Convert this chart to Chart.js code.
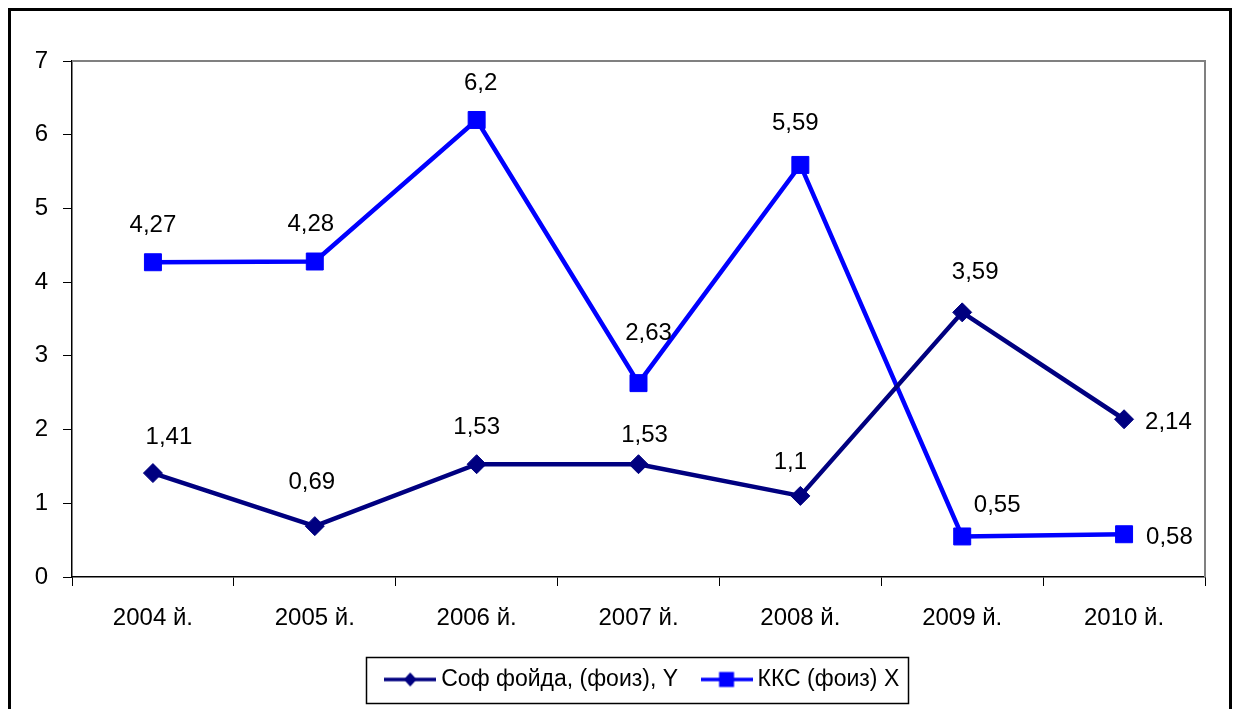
<!DOCTYPE html>
<html>
<head>
<meta charset="utf-8">
<script src="https://cdn.jsdelivr.net/npm/chart.js@4.4.1/dist/chart.umd.min.js"></script>
<style>
  html, body { margin: 0; padding: 0; background: #fff; }
  #wrap { position: relative; width: 1233px; height: 709px; }
</style>
</head>
<body>
<div id="wrap"><canvas id="c" width="1233" height="709"></canvas></div>
<script>
// ---- data ----
const categories = ['2004 й.', '2005 й.', '2006 й.', '2007 й.', '2008 й.', '2009 й.', '2010 й.'];
const seriesNames = ['Соф фойда, (фоиз), Y', 'ККС (фоиз) X'];
const profitY = [1.41, 0.69, 1.53, 1.53, 1.1, 3.59, 2.14];
const kksX = [4.27, 4.28, 6.2, 2.63, 5.59, 0.55, 0.58];
const yTicks = [0, 1, 2, 3, 4, 5, 6, 7];

// ---- label placement (style, relative to each point) ----
const labelPlacement = [
  [[16,-36,'center'],[-3,-44,'center'],[0,-37,'center'],[6,-29,'center'],[-10,-34,'center'],[13,-40,'center'],[21,3,'left']],
  [[0,-37,'center'],[-4,-37,'center'],[4,-37,'center'],[10,-50,'center'],[-5,-42,'center'],[35,-31,'center'],[22,3,'left']]
];

const NAVY = '#000080';
const BLUE = '#0000FF';
const FONT = '"Liberation Sans", Arial, sans-serif';

function makeSymbol(color, shape) {
  const cv = document.createElement('canvas');
  cv.width = 52; cv.height = 20;
  const g = cv.getContext('2d');
  g.strokeStyle = color; g.fillStyle = color; g.lineWidth = 3.5;
  g.beginPath(); g.moveTo(0, 10); g.lineTo(52, 10); g.stroke();
  if (shape === 'diamond') {
    g.beginPath(); g.moveTo(26, 3); g.lineTo(32.5, 10); g.lineTo(26, 17); g.lineTo(19.5, 10); g.closePath(); g.fill();
  } else {
    g.fillRect(18.5, 2.5, 15, 15);
  }
  return cv;
}
const symbols = [makeSymbol(NAVY, 'diamond'), makeSymbol(BLUE, 'square')];

const decorPlugin = {
  id: 'decor',
  afterLayout(chart) {
    const lg = chart.legend;
    if (lg) { lg.left += 42.5; lg.right += 42.5; }
  },
  beforeDatasetsDraw(chart) {
    const {ctx, chartArea: a} = chart;
    ctx.save();
    ctx.strokeStyle = '#808080';
    ctx.lineWidth = 2;
    ctx.beginPath();
    ctx.moveTo(a.left, a.top);
    ctx.lineTo(a.right, a.top);
    ctx.lineTo(a.right, a.bottom);
    ctx.stroke();
    ctx.restore();
  },
  afterDraw(chart) {
    const {ctx} = chart;
    ctx.save();
    // outer frame
    ctx.strokeStyle = '#000';
    ctx.lineWidth = 3;
    ctx.strokeRect(9.5, 9.5, 1221, 740);
    // legend border
    const lg = chart.legend;
    if (lg && lg.legendHitBoxes && lg.legendHitBoxes.length) {
      const hb = lg.legendHitBoxes;
      const first = hb[0], last = hb[hb.length - 1];
      const left = first.left - 24.5;
      const right = last.left + last.width + 9;
      const top = first.top - 11;
      const bottom = first.top + 35;
      ctx.strokeStyle = '#000';
      ctx.lineWidth = 1.5;
      ctx.strokeRect(Math.round(left) + 0.5, Math.round(top) + 0.5, Math.round(right - left), Math.round(bottom - top));
    }
    ctx.restore();
  }
};

const labelPlugin = {
  id: 'valueLabels',
  afterDatasetsDraw(chart) {
    const {ctx} = chart;
    ctx.save();
    ctx.font = '24px ' + FONT;
    ctx.fillStyle = '#000';
    ctx.textBaseline = 'middle';
    chart.data.datasets.forEach((ds, di) => {
      const meta = chart.getDatasetMeta(di);
      meta.data.forEach((pt, i) => {
        const pl = labelPlacement[di][i];
        ctx.textAlign = pl[2];
        const txt = String(ds.data[i]).replace('.', ',');
        ctx.fillText(txt, pt.x + pl[0], pt.y + pl[1]);
      });
    });
    ctx.restore();
  }
};

new Chart(document.getElementById('c'), {
  type: 'line',
  data: {
    labels: categories,
    datasets: [
      {
        label: seriesNames[0],
        data: profitY,
        borderColor: NAVY,
        backgroundColor: NAVY,
        borderWidth: 4.5,
        pointStyle: 'rectRot',
        pointRadius: 9.5,
        pointBorderWidth: 1,
        pointBackgroundColor: NAVY,
        pointBorderColor: NAVY,
        tension: 0,
        fill: false
      },
      {
        label: seriesNames[1],
        data: kksX,
        borderColor: BLUE,
        backgroundColor: BLUE,
        borderWidth: 4.5,
        pointStyle: 'rect',
        pointRadius: 12,
        pointBorderWidth: 1,
        pointBackgroundColor: BLUE,
        pointBorderColor: BLUE,
        tension: 0,
        fill: false
      }
    ]
  },
  options: {
    responsive: false,
    animation: false,
    devicePixelRatio: 1,
    layout: { padding: { left: 0, right: 28, top: 61, bottom: 8 } },
    plugins: {
      tooltip: { enabled: false },
      legend: {
        display: true,
        position: 'bottom',
        labels: {
          usePointStyle: true,
          pointStyleWidth: 39,
          padding: 29,
          color: '#000',
          font: { family: FONT, size: 23 },
          generateLabels(chart) {
            const items = Chart.defaults.plugins.legend.labels.generateLabels(chart);
            items.forEach((it, i) => { it.pointStyle = symbols[i]; });
            return items;
          }
        }
      }
    },
    scales: {
      x: {
        type: 'category',
        offset: true,
        grid: { display: true, offset: true, drawOnChartArea: false, drawTicks: true, tickLength: 9, color: '#000', lineWidth: 1 },
        border: { display: true, color: '#000', width: 1.5 },
        ticks: { color: '#000', font: { family: FONT, size: 24 }, padding: 18, maxRotation: 0, autoSkip: false },
        afterFit(scale) { scale.height = 62; }
      },
      y: {
        min: yTicks[0],
        max: yTicks[yTicks.length - 1],
        afterBuildTicks(scale) { scale.ticks = yTicks.map(v => ({ value: v })); },
        grid: { display: true, drawOnChartArea: false, drawTicks: true, tickLength: 9, color: '#000', lineWidth: 1 },
        border: { display: true, color: '#000', width: 1.5 },
        ticks: { color: '#000', font: { family: FONT, size: 24 }, padding: 15 },
        afterFit(scale) { scale.width = 72; }
      }
    }
  },
  plugins: [decorPlugin, labelPlugin]
});
</script>
</body>
</html>
